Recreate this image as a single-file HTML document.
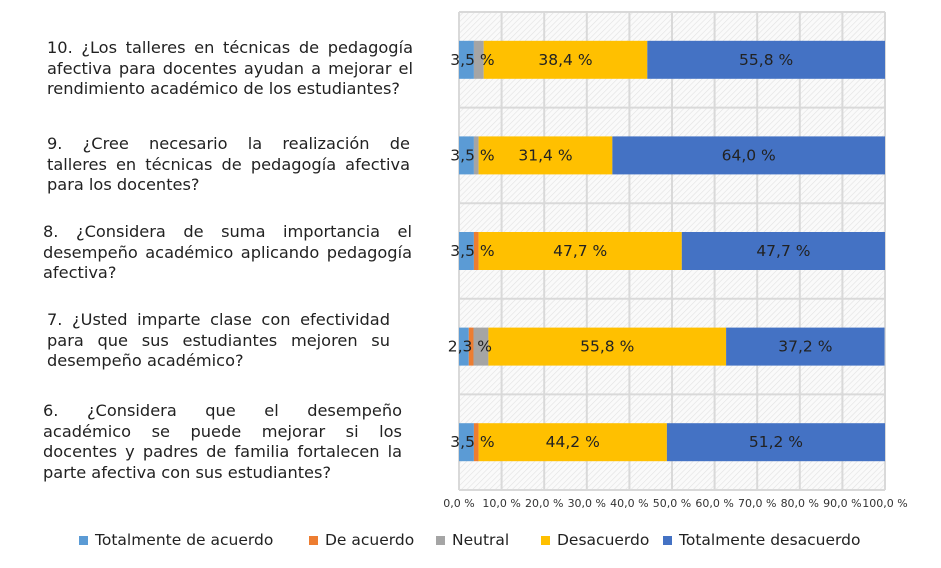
<!DOCTYPE html>
<html><head><meta charset="utf-8"><style>
body{margin:0;width:941px;height:568px;background:#fff;position:relative;overflow:hidden;font-family:"DejaVu Sans","Liberation Sans",sans-serif;color:#222}
.q{position:absolute;font-size:16.2px;line-height:20.5px}
.q div{text-align:justify;text-align-last:justify;white-space:nowrap}
.q div.l{text-align-last:left}
.leg{position:absolute;top:531px;font-size:15.5px;display:flex;align-items:center}
.leg span.sw{display:inline-block;width:9px;height:9px;margin-right:7px}
</style></head><body>
<div class="q" style="left:47px;top:38px;width:366px"><div>10. ¿Los talleres en técnicas de pedagogía</div><div>afectiva para docentes ayudan a mejorar el</div><div class="l">rendimiento académico de los estudiantes?</div></div>
<div class="q" style="left:47px;top:134px;width:363px"><div>9. ¿Cree necesario la realización de</div><div>talleres en técnicas de pedagogía afectiva</div><div class="l">para los docentes?</div></div>
<div class="q" style="left:43px;top:222px;width:369px"><div>8. ¿Considera de suma importancia el</div><div>desempeño académico aplicando pedagogía</div><div class="l">afectiva?</div></div>
<div class="q" style="left:47px;top:310px;width:343px"><div>7. ¿Usted imparte clase con efectividad</div><div>para que sus estudiantes mejoren su</div><div class="l">desempeño académico?</div></div>
<div class="q" style="left:43px;top:401px;width:359px"><div>6. ¿Considera que el desempeño</div><div>académico se puede mejorar si los</div><div>docentes y padres de familia fortalecen la</div><div class="l">parte afectiva con sus estudiantes?</div></div>
<svg id="chart" width="941" height="568" style="position:absolute;left:0;top:0">
<defs><pattern id="hatch" width="4" height="4" patternUnits="userSpaceOnUse" patternTransform="rotate(45)"><rect width="4" height="4" fill="#fafafa"/><line x1="0" y1="0" x2="0" y2="4" stroke="#e2e2e2" stroke-width="1.2"/></pattern></defs>
<g id="g"></g><g id="labels"></g></svg>
<div class="leg" style="left:79px"><span class="sw" style="background:#5b9bd5"></span>Totalmente de acuerdo</div>
<div class="leg" style="left:309px"><span class="sw" style="background:#ed7d31"></span>De acuerdo</div>
<div class="leg" style="left:436px"><span class="sw" style="background:#a5a5a5"></span>Neutral</div>
<div class="leg" style="left:541px"><span class="sw" style="background:#ffc000"></span>Desacuerdo</div>
<div class="leg" style="left:663px"><span class="sw" style="background:#4472c4"></span>Totalmente desacuerdo</div>
<script>
const categories=["10","9","8","7","6"];
const totAcuerdo=[3.5,3.5,3.5,2.3,3.5];
const deAcuerdo=[0,0,1.1,1.1,1.1];
const neutral=[2.3,1.1,0,3.5,0];
const desacuerdo=[38.4,31.4,47.7,55.8,44.2];
const totDesacuerdo=[55.8,64.0,47.7,37.2,51.2];
const ticks=[0,10,20,30,40,50,60,70,80,90,100];
const colors=["#5b9bd5","#ed7d31","#a5a5a5","#ffc000","#4472c4"];
const names=["totalmente-de-acuerdo","de-acuerdo","neutral","desacuerdo","totalmente-desacuerdo"];
const X0=459,X1=885,Y0=12,Y1=490;
const x=v=>X0+(X1-X0)*v/100;
const band=(Y1-Y0)/categories.length;
const y=i=>Y0+band*i;
const NS="http://www.w3.org/2000/svg";
const g=document.getElementById('g');
const lg=document.getElementById('labels');
function mk(t,a,p){const e=document.createElementNS(NS,t);for(const k in a)e.setAttribute(k,a[k]);(p||g).appendChild(e);return e;}
const bg=mk('rect',{x:X0,y:Y0,width:X1-X0,height:Y1-Y0,fill:'url(#hatch)'});


ticks.forEach(t=>{
 const l=mk('line',{x1:x(t),x2:x(t),y1:Y0,y2:Y1,stroke:'#d9d9d9','stroke-width':2});
 
 
 const tx=mk('text',{x:x(t),y:507,'font-size':11,'text-anchor':'middle',fill:'#333','font-family':'DejaVu Sans, sans-serif'});
 tx.textContent=t.toFixed(1).replace('.',',')+' %';
 
 
});
for(let i=0;i<=categories.length;i++){
 const l=mk('line',{x1:X0,x2:X1,y1:y(i),y2:y(i),stroke:'#d9d9d9','stroke-width':2});
 
 
}
const series=[totAcuerdo,deAcuerdo,neutral,desacuerdo,totDesacuerdo];
categories.forEach((c,i)=>{
 let acc=0;const cy=y(i)+band/2,h=38;
 series.forEach((s,j)=>{
  const v=s[i];
  const r=mk('rect',{x:x(acc),y:cy-h/2,width:x(acc+v)-x(acc),height:h,fill:colors[j]});
  
  
  if(j!==1&&j!==2&&v>0){
   const cx=j===0?x(acc)+(x(acc+v)-x(acc))/2+6:x(acc+v/2);
   const tx=mk('text',{x:cx,y:cy+5,'font-size':15.5,'text-anchor':'middle',fill:'#222','font-family':'DejaVu Sans, sans-serif'},lg);
   tx.textContent=v.toFixed(1).replace('.',',')+' %';
   
   
  }
  acc+=v;
 });
});
</script>
</body></html>
